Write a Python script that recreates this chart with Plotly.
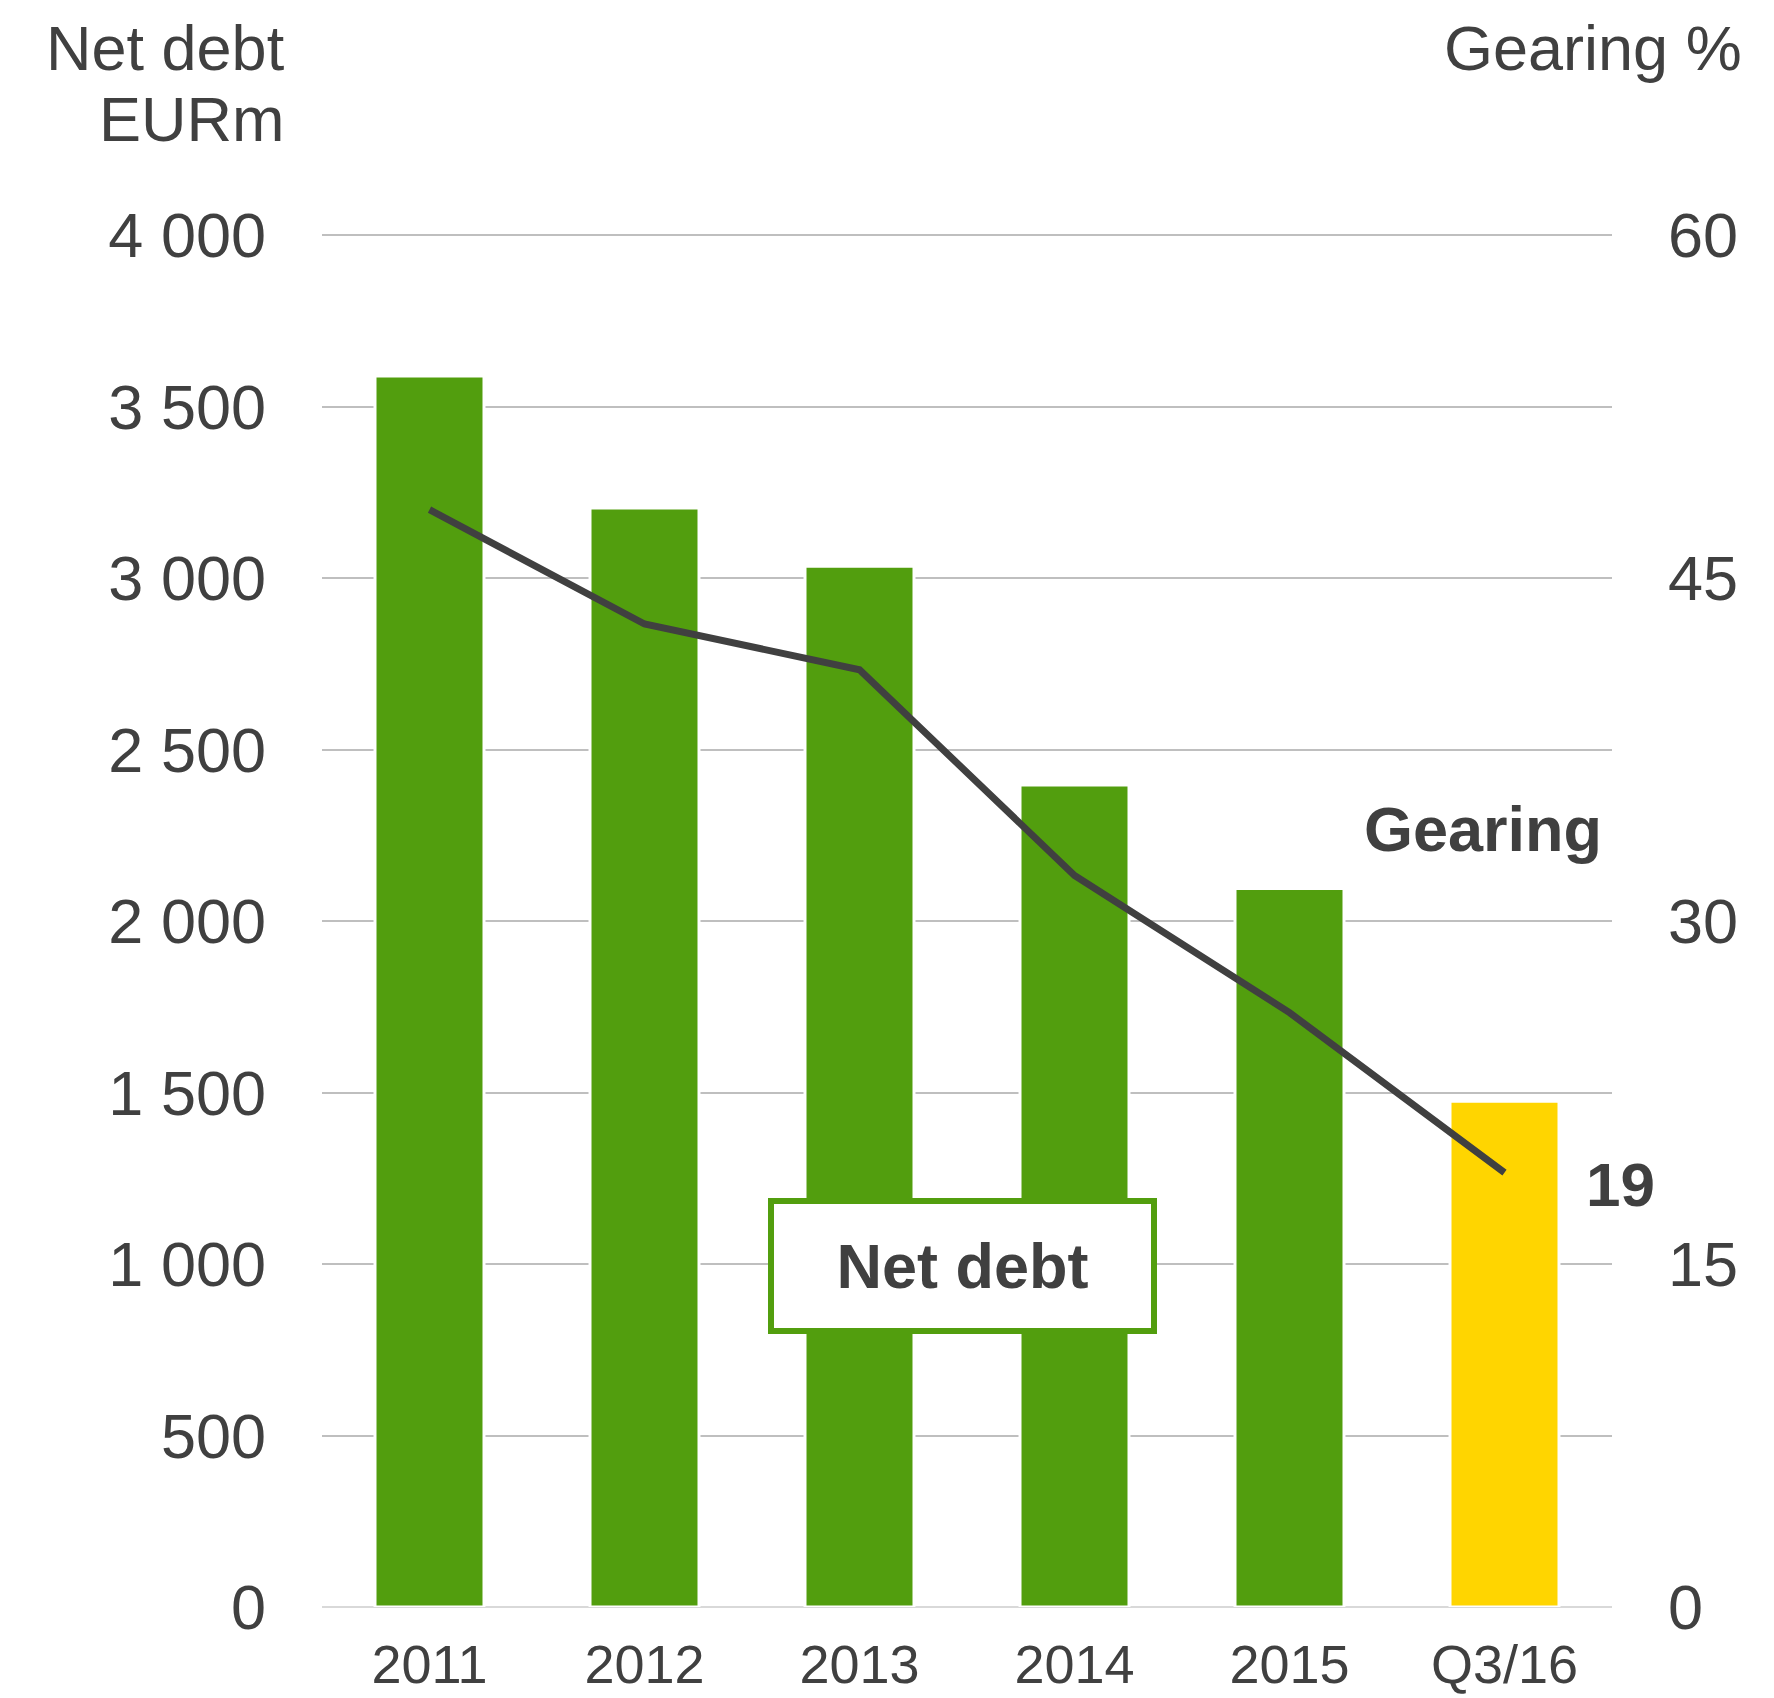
import plotly.graph_objects as go

# Net debt (EURm) and gearing (%) by period
periods = ["2011", "2012", "2013", "2014", "2015", "Q3/16"]
net_debt = [3590, 3205, 3035, 2397, 2095, 1475]
gearing = [48, 43, 41, 32, 26, 19]

# Left axis ticks
debt_ticks = [0, 500, 1000, 1500, 2000, 2500, 3000, 3500, 4000]
debt_tick_text = ["0", "500", "1 000", "1 500", "2 000", "2 500", "3 000", "3 500", "4 000"]
# Right axis ticks
gear_ticks = [0, 15, 30, 45, 60]

GREEN = "#529E0E"
YELLOW = "#FFD500"
TEXT = "#404040"
FONT = "Liberation Sans, Arial, sans-serif"

bar_colors = [GREEN] * (len(periods) - 1) + [YELLOW]

# tiny headroom so the top gridline is still drawn
TOP = 1.001

fig = go.Figure()

fig.add_trace(go.Bar(
    x=periods,
    y=net_debt,
    width=0.507,
    marker=dict(color=bar_colors, line=dict(color="white", width=3)),
    hoverinfo="skip",
    showlegend=False,
))

fig.add_trace(go.Scatter(
    x=periods,
    y=gearing,
    yaxis="y2",
    mode="lines",
    line=dict(color=TEXT, width=7),
    hoverinfo="skip",
    showlegend=False,
))

fig.update_layout(
    template="none",
    width=1774,
    height=1698,
    margin=dict(l=322, r=162, t=234, b=91, pad=0),
    paper_bgcolor="white",
    plot_bgcolor="white",
    font=dict(family=FONT, color=TEXT, size=63),
    xaxis=dict(
        type="category",
        range=[-0.5, len(periods) - 0.5],
        autorange=False,
        automargin=False,
        showgrid=False,
        showline=False,
        zeroline=False,
        ticks="",
        tickfont=dict(size=54, color=TEXT),
        ticklabelstandoff=21,
    ),
    yaxis=dict(
        range=[0, 4000 * TOP],
        autorange=False,
        automargin=False,
        tickvals=debt_ticks,
        ticktext=debt_tick_text,
        showgrid=True,
        gridcolor="#BFBFBF",
        gridwidth=2,
        zeroline=True,
        zerolinecolor="#D9D9D9",
        zerolinewidth=2,
        showline=False,
        ticks="",
        tickfont=dict(size=63, color=TEXT),
        ticklabelstandoff=55,
    ),
    yaxis2=dict(
        range=[0, 60 * TOP],
        autorange=False,
        automargin=False,
        tickvals=gear_ticks,
        overlaying="y",
        side="right",
        showgrid=False,
        zeroline=False,
        showline=False,
        ticks="",
        tickfont=dict(size=63, color=TEXT),
        ticklabelstandoff=55,
    ),
)

# Axis titles
fig.add_annotation(text="Net debt", xref="paper", yref="paper", x=-0.027, y=1.1354,
                   xanchor="right", yanchor="middle", showarrow=False,
                   font=dict(size=63, color=TEXT))
fig.add_annotation(text="EURm", xref="paper", yref="paper", x=-0.027, y=1.0838,
                   xanchor="right", yanchor="middle", showarrow=False,
                   font=dict(size=63, color=TEXT))
fig.add_annotation(text="Gearing %", xref="paper", yref="paper", x=1.1025, y=1.1354,
                   xanchor="right", yanchor="middle", showarrow=False,
                   font=dict(size=63, color=TEXT))

# Series labels
fig.add_annotation(text="<b>Gearing</b>", xref="paper", yref="paper", x=0.994, y=0.5667,
                   xanchor="right", yanchor="middle", showarrow=False,
                   font=dict(size=63, color=TEXT))
fig.add_annotation(text=f"<b>{gearing[-1]}</b>", xref="x", yref="y2",
                   x=periods[-1], y=gearing[-1], xshift=116, yshift=-12,
                   xanchor="center", yanchor="middle", showarrow=False,
                   font=dict(size=62, color=TEXT))
fig.add_annotation(text="<b>Net debt</b>", xref="paper", yref="paper", x=0.4965, y=0.248,
                   xanchor="center", yanchor="middle", showarrow=False,
                   width=377, height=124, align="center", valign="middle",
                   bgcolor="white", bordercolor=GREEN, borderwidth=6, borderpad=0,
                   font=dict(size=63, color=TEXT))

fig.write_html("out.html")
